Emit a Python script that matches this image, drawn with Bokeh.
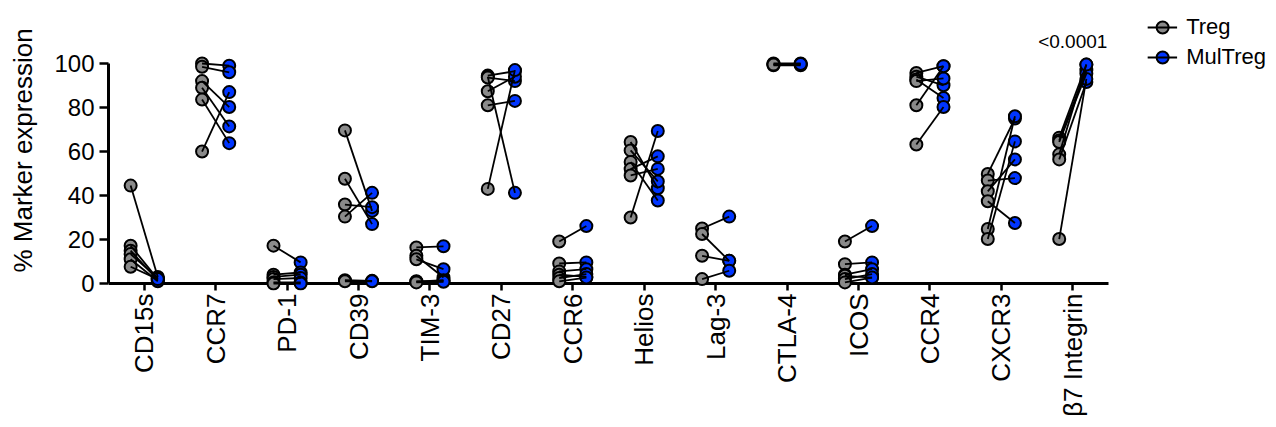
from bokeh.plotting import figure
from bokeh.models import FixedTicker, Legend, LegendItem, Range1d
from bokeh.core.properties import value
from bokeh.embed import file_html
from bokeh.resources import INLINE

markers = ["CD15s", "CCR7", "PD-1", "CD39", "TIM-3", "CD27", "CCR6", "Helios",
           "Lag-3", "CTLA-4", "ICOS", "CCR4", "CXCR3", "β7 Integrin"]

treg_values = [
    [44.5, 17.2, 14.9, 13.4, 11.0, 7.6],     # CD15s
    [100.0, 98.5, 92.0, 89.0, 83.6, 60.0],   # CCR7
    [17.2, 4.0, 3.0, 2.0, 0.5, 0.0],         # PD-1
    [69.6, 47.6, 35.9, 30.4, 1.5, 1.0],      # CD39
    [16.4, 12.6, 11.0, 1.0, 0.8, 0.5],       # TIM-3
    [94.5, 94.0, 93.6, 87.4, 81.0, 43.0],    # CD27
    [19.1, 9.1, 5.5, 4.0, 2.5, 1.0],         # CCR6
    [64.3, 60.5, 55.2, 52.0, 49.1, 30.0],    # Helios
    [25.0, 22.5, 12.6, 2.0],                 # Lag-3
    [100.0, 99.6, 99.2, 99.5],               # CTLA-4
    [19.1, 8.8, 4.0, 3.5, 2.0, 0.5],         # ICOS
    [95.7, 94.0, 92.7, 92.0, 81.0, 63.2],    # CCR4
    [49.8, 46.8, 41.9, 37.4, 24.8, 20.2],    # CXCR3
    [66.3, 65.0, 64.3, 58.7, 56.4, 20.2],    # b7 Integrin
]

multreg_values = [
    [3.0, 2.0, 1.5, 2.5, 1.0, 2.0],
    [99.0, 96.0, 80.2, 71.4, 63.8, 87.0],
    [9.6, 5.0, 4.0, 2.5, 0.5, 0.0],
    [33.0, 27.0, 34.7, 41.2, 1.2, 1.0],
    [16.9, 2.7, 6.5, 1.2, 1.5, 0.8],
    [96.5, 41.2, 92.0, 94.0, 83.0, 97.0],
    [26.1, 9.6, 6.5, 3.0, 4.3, 2.7],
    [43.3, 46.4, 37.7, 57.8, 52.1, 69.3],
    [30.4, 10.3, 10.3, 5.8],
    [100.0, 99.6, 99.2, 99.8],
    [26.1, 9.6, 6.5, 2.7, 4.3, 2.7],
    [98.8, 90.1, 84.3, 93.2, 98.8, 80.2],
    [75.0, 47.9, 56.4, 27.5, 76.0, 64.6],
    [99.5, 97.0, 95.4, 99.5, 91.6, 93.0],
]

p_value_label = "<0.0001"
p_value_index = 13

y_ticks = [0, 20, 40, 60, 80, 100]

FONT = "Liberation Sans"
GRAY = "#8a8a8a"
BLUE = "#0035ff"
OFF = 0.19

tx, ty, mx, my, lxs, lys = [], [], [], [], [], []
for i, (tv, mv) in enumerate(zip(treg_values, multreg_values)):
    for a, b in zip(tv, mv):
        tx.append(i - OFF); ty.append(a)
        mx.append(i + OFF); my.append(b)
        lxs.append([i - OFF, i + OFF]); lys.append([a, b])

x_lo, x_hi = -0.5, len(markers) - 0.5

p = figure(frame_width=1160, frame_height=280, output_backend="svg",
           toolbar_location=None,
           x_range=Range1d(x_lo, 15.74), y_range=Range1d(-3.18, 124.09),
           min_border_left=108, min_border_right=0, min_border_top=10,
           min_border_bottom=0)
p.outline_line_color = None
p.xgrid.visible = False
p.ygrid.visible = False
p.background_fill_color = "white"
p.border_fill_color = "white"

# x-axis baseline at y = 0
p.segment(x0=[x_lo], y0=[y_ticks[0]], x1=[x_hi], y1=[y_ticks[0]],
          line_color="black", line_width=3)

r_t = p.scatter(tx, ty, size=12, fill_color=GRAY, line_color="black", line_width=2)
r_m = p.scatter(mx, my, size=12, fill_color=BLUE, line_color="black", line_width=2)
r_l = p.multi_line(lxs, lys, line_color="black", line_width=1.8)

best = max(multreg_values[p_value_index])
p.text(x=[p_value_index], y=[best + 10.5], text=[p_value_label],
       text_font=value(FONT), text_font_size="19px", text_align="center",
       text_baseline="middle", text_color="black")

# axes
xa = p.xaxis[0]
xa.bounds = (x_lo, x_hi)
xa.ticker = FixedTicker(ticks=list(range(len(markers))))
xa.major_label_overrides = {i: m for i, m in enumerate(markers)}
xa.major_label_orientation = 1.5707963267948966
xa.major_label_text_font = FONT
xa.major_label_text_font_size = "26px"
xa.major_label_text_color = "black"
xa.major_label_standoff = 3
xa.major_tick_out = 0
xa.major_tick_in = 7
xa.minor_tick_out = 0
xa.minor_tick_in = 0
xa.axis_line_color = None
xa.major_tick_line_width = 2.5
xa.major_tick_line_color = "black"

ya = p.yaxis[0]
ya.bounds = (0, 100)
ya.ticker = FixedTicker(ticks=y_ticks)
ya.major_label_text_font = FONT
ya.major_label_text_font_size = "24px"
ya.major_label_text_color = "black"
ya.major_label_standoff = 5
ya.major_tick_out = 9
ya.major_tick_in = 0
ya.minor_tick_out = 0
ya.minor_tick_in = 0
ya.axis_line_width = 3
ya.major_tick_line_width = 2.5
ya.axis_line_color = "black"
ya.major_tick_line_color = "black"
ya.axis_label = "% Marker expression"
ya.axis_label_text_font = FONT
ya.axis_label_text_font_size = "26px"
ya.axis_label_text_font_style = "normal"
ya.axis_label_text_color = "black"
ya.axis_label_standoff = 13

legend = Legend(items=[LegendItem(label="Treg", renderers=[r_t, r_l]),
                       LegendItem(label="MulTreg", renderers=[r_m, r_l])],
                location="top_right", margin=0, padding=2, spacing=-3,
                glyph_width=30, glyph_height=30, label_standoff=9,
                label_text_font=FONT, label_text_font_size="22px",
                label_text_color="black",
                background_fill_alpha=0, border_line_alpha=0)
p.add_layout(legend)

open("out.html", "w").write(file_html(p, INLINE))
